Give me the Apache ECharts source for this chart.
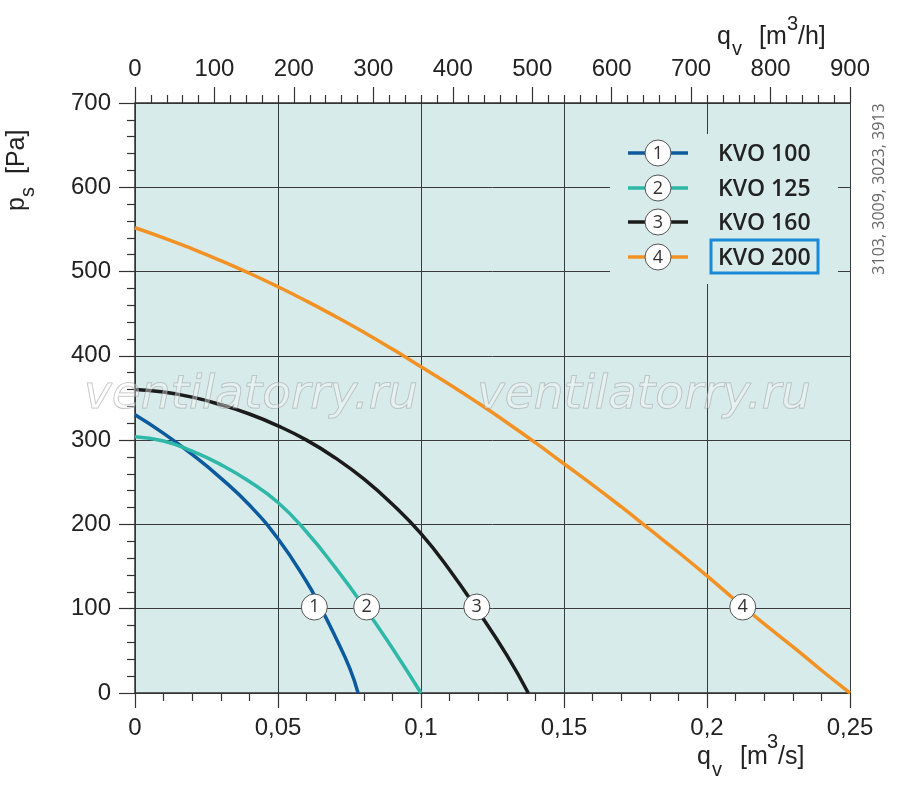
<!DOCTYPE html>
<html>
<head>
<meta charset="utf-8">
<script src="https://cdn.jsdelivr.net/npm/echarts@6/dist/echarts.min.js"></script>
<style>
  html, body { margin: 0; padding: 0; background: #fff; }
  #chart { width: 900px; height: 786px; }
</style>
</head>
<body>
<div id="chart"></div>
<script>
// curve data: q_v in m3/s, p_s in Pa
const curveNames = ['KVO 100', 'KVO 125', 'KVO 160', 'KVO 200'];
const curveColors = ['#0b5a9e', '#2fb8a8', '#1b1b1b', '#f39224'];

const kvo100Flow = [0, 0.01, 0.02, 0.03, 0.04, 0.05, 0.06, 0.065, 0.07, 0.075, 0.078];
const kvo100Pressure = [330, 308, 283, 255, 223, 183, 132, 101, 67, 30, 0];

const kvo125Flow = [0, 0.01, 0.02, 0.03, 0.04, 0.05, 0.06, 0.07, 0.08, 0.09, 0.1];
const kvo125Pressure = [304, 299, 287, 271, 251, 226, 191, 149, 103, 53, 0];

const kvo160Flow = [0, 0.01, 0.02, 0.03, 0.04, 0.05, 0.06, 0.07, 0.08, 0.09, 0.1, 0.11, 0.12, 0.13, 0.1375];
const kvo160Pressure = [360, 357, 351, 342, 331, 317, 300, 279, 254, 224, 189, 146, 97, 45, 0];

const kvo200Flow = [0, 0.01, 0.02, 0.03, 0.04, 0.05, 0.06, 0.07, 0.08, 0.09, 0.1, 0.11, 0.12, 0.13,
  0.14, 0.15, 0.16, 0.17, 0.18, 0.19, 0.2, 0.21, 0.22, 0.23, 0.24, 0.25];
const kvo200Pressure = [552, 540, 527, 513, 498, 482, 465, 447, 428, 408, 387, 366, 344, 321,
  297, 272, 247, 221, 194, 167, 139, 110, 82, 55, 27, 0];

// numbered circles sitting on the curves
const markerFlow = [0.0627, 0.081, 0.1195, 0.2125];
const markerPressure = [102, 102, 102, 102];

// axes
const flowSecondsMax = 0.25;
const flowHourMax = 900;
const pressureMax = 700;

const flows = [kvo100Flow, kvo125Flow, kvo160Flow, kvo200Flow];
const pressures = [kvo100Pressure, kvo125Pressure, kvo160Pressure, kvo200Pressure];

const plotBg = '#d7ebea';
const gridColor = '#3a3a3a';
const labelFont = 'Liberation Sans';

var chart = echarts.init(document.getElementById('chart'));

// text placed by baseline (canvas 'middle' sits ~0.3em above baseline)
function txt(x, baseline, text, size, extra) {
    return Object.assign({
        type: 'text',
        x: x,
        y: baseline - 0.32 * size,
        style: {
            text: text,
            fontSize: size,
            fontFamily: labelFont,
            fill: '#222',
            align: 'left',
            verticalAlign: 'middle',
            textAlign: 'left',
            textVerticalAlign: 'middle'
        }
    }, extra || {});
}

const graphics = [];

// axis names
graphics.push({
    type: 'group', x: 697, y: 765, z: 20,
    children: [
        txt(0, 0, 'q', 25),
        txt(15, 12, 'v', 20),
        txt(43, 0, '[m', 25),
        txt(70, -16, '3', 20),
        txt(81, 0, '/s]', 25)
    ]
});
graphics.push({
    type: 'group', x: 717, y: 45, z: 20,
    children: [
        txt(0, 0, 'q', 25),
        txt(15, 11, 'v', 20),
        txt(42, 0, '[m', 25),
        txt(70, -14, '3', 20),
        txt(81, 0, '/h]', 25)
    ]
});
graphics.push({
    type: 'group', x: 25, y: 211, rotation: Math.PI / 2, z: 20,
    children: [
        txt(0, 0, 'p', 25),
        txt(14, 10, 's', 20),
        txt(37, 0, '[Pa]', 25)
    ]
});

// drawing number on the right
graphics.push({
    type: 'text', x: 879, y: 189, rotation: Math.PI / 2, z: 20,
    style: {
        text: '3103, 3009, 3023, 3913', fontSize: 16, fontFamily: 'Open Sans', fill: '#666',
        align: 'center', verticalAlign: 'middle', textAlign: 'center', textVerticalAlign: 'middle'
    }
});

// legend box
graphics.push({
    type: 'rect', z: 10,
    shape: { x: 610, y: 134, width: 228, height: 150 },
    style: { fill: plotBg }
});
const legendRows = [153, 188, 222, 257];
curveNames.forEach(function(name, i) {
    const y = legendRows[i];
    graphics.push({
        type: 'line', z: 11,
        shape: { x1: 628, y1: y, x2: 688, y2: y },
        style: { stroke: curveColors[i], lineWidth: 3.5 }
    });
    graphics.push({
        type: 'circle', z: 12,
        shape: { cx: 658, cy: y, r: 13 },
        style: { fill: '#fff', stroke: '#555', lineWidth: 1 }
    });
    graphics.push({
        type: 'text', x: 658, y: y + 1, z: 13,
        style: {
            text: String(i + 1), fontSize: 18, fontFamily: 'Open Sans', fill: '#333',
            align: 'center', verticalAlign: 'middle', textAlign: 'center', textVerticalAlign: 'middle'
        }
    });
    graphics.push({
        type: 'text', x: 718, y: y + 1, z: 13,
        style: {
            text: name, fontSize: 23, fontWeight: 600, fontFamily: 'Open Sans', fill: '#222',
            align: 'left', verticalAlign: 'middle', textAlign: 'left', textVerticalAlign: 'middle'
        }
    });
});
graphics.push({
    type: 'rect', z: 14,
    shape: { x: 711, y: 240, width: 107, height: 33 },
    style: { fill: 'none', stroke: '#1a8ad8', lineWidth: 3 }
});

// watermark
[84, 477].forEach(function(x) {
    graphics.push({
        type: 'text', x: x, y: 396, z: 30,
        style: {
            text: 'ventilatorry.ru', fontSize: 47, fontStyle: 'italic', fontFamily: 'DejaVu Sans',
            fill: 'rgba(255,255,255,0.35)', stroke: 'rgba(150,150,150,0.6)', lineWidth: 1,
            align: 'left', verticalAlign: 'middle', textAlign: 'left', textVerticalAlign: 'middle'
        }
    });
});

const series = curveNames.map(function(name, i) {
    return {
        name: name,
        type: 'line',
        xAxisIndex: 0,
        yAxisIndex: 0,
        data: flows[i].map(function(q, j) { return [q, pressures[i][j]]; }),
        showSymbol: false,
        smooth: 0.5,
        smoothConstraint: false,
        lineStyle: { color: curveColors[i], width: 3.5 },
        z: 3
    };
});
series.push({
    type: 'scatter',
    xAxisIndex: 0,
    yAxisIndex: 0,
    data: markerFlow.map(function(q, i) { return [q, markerPressure[i]]; }),
    symbolSize: 26,
    itemStyle: { color: '#fff', borderColor: '#555', borderWidth: 1, opacity: 1 },
    label: {
        show: true, position: 'inside', fontSize: 18, fontFamily: 'Open Sans', color: '#333',
        formatter: function(p) { return String(p.dataIndex + 1); }
    },
    z: 5
});

option = {
    backgroundColor: '#fff',
    animation: false,
    grid: {
        left: 135, right: 50, top: 103, bottom: 93,
        show: true, backgroundColor: plotBg, borderWidth: 0
    },
    xAxis: [{
        type: 'value',
        position: 'bottom',
        min: 0,
        max: flowSecondsMax,
        interval: 0.05,
        axisLine: { onZero: false, lineStyle: { color: '#333', width: 1.5 } },
        axisTick: { show: true, length: 15, lineStyle: { color: '#333', width: 1.2 } },
        minorTick: { show: true, splitNumber: 5, length: 8, lineStyle: { color: '#333', width: 1.2 } },
        splitLine: { show: true, lineStyle: { color: gridColor, width: 1 } },
        axisLabel: {
            margin: 23, fontSize: 24, color: '#222', fontFamily: labelFont,
            formatter: function(v) { return String(+v.toFixed(2)).replace('.', ','); }
        }
    }, {
        type: 'value',
        position: 'top',
        min: 0,
        max: flowHourMax,
        interval: 100,
        axisLine: { onZero: false, lineStyle: { color: '#333', width: 1.5 } },
        axisTick: { show: true, length: 16, lineStyle: { color: '#333', width: 1.2 } },
        minorTick: { show: true, splitNumber: 5, length: 8, lineStyle: { color: '#333', width: 1.2 } },
        splitLine: { show: false },
        axisLabel: { margin: 22, fontSize: 24, color: '#222', fontFamily: labelFont }
    }],
    yAxis: {
        type: 'value',
        min: 0,
        max: pressureMax,
        interval: 100,
        axisLine: { show: true, onZero: false, lineStyle: { color: '#333', width: 1.5 } },
        axisTick: { show: true, length: 16, lineStyle: { color: '#333', width: 1.2 } },
        minorTick: { show: true, splitNumber: 5, length: 8, lineStyle: { color: '#333', width: 1.2 } },
        splitLine: { show: true, lineStyle: { color: gridColor, width: 1 } },
        axisLabel: { margin: 24, fontSize: 24, color: '#222', fontFamily: labelFont }
    },
    graphic: graphics,
    series: series
};
chart.setOption(option);
</script>
</body>
</html>
